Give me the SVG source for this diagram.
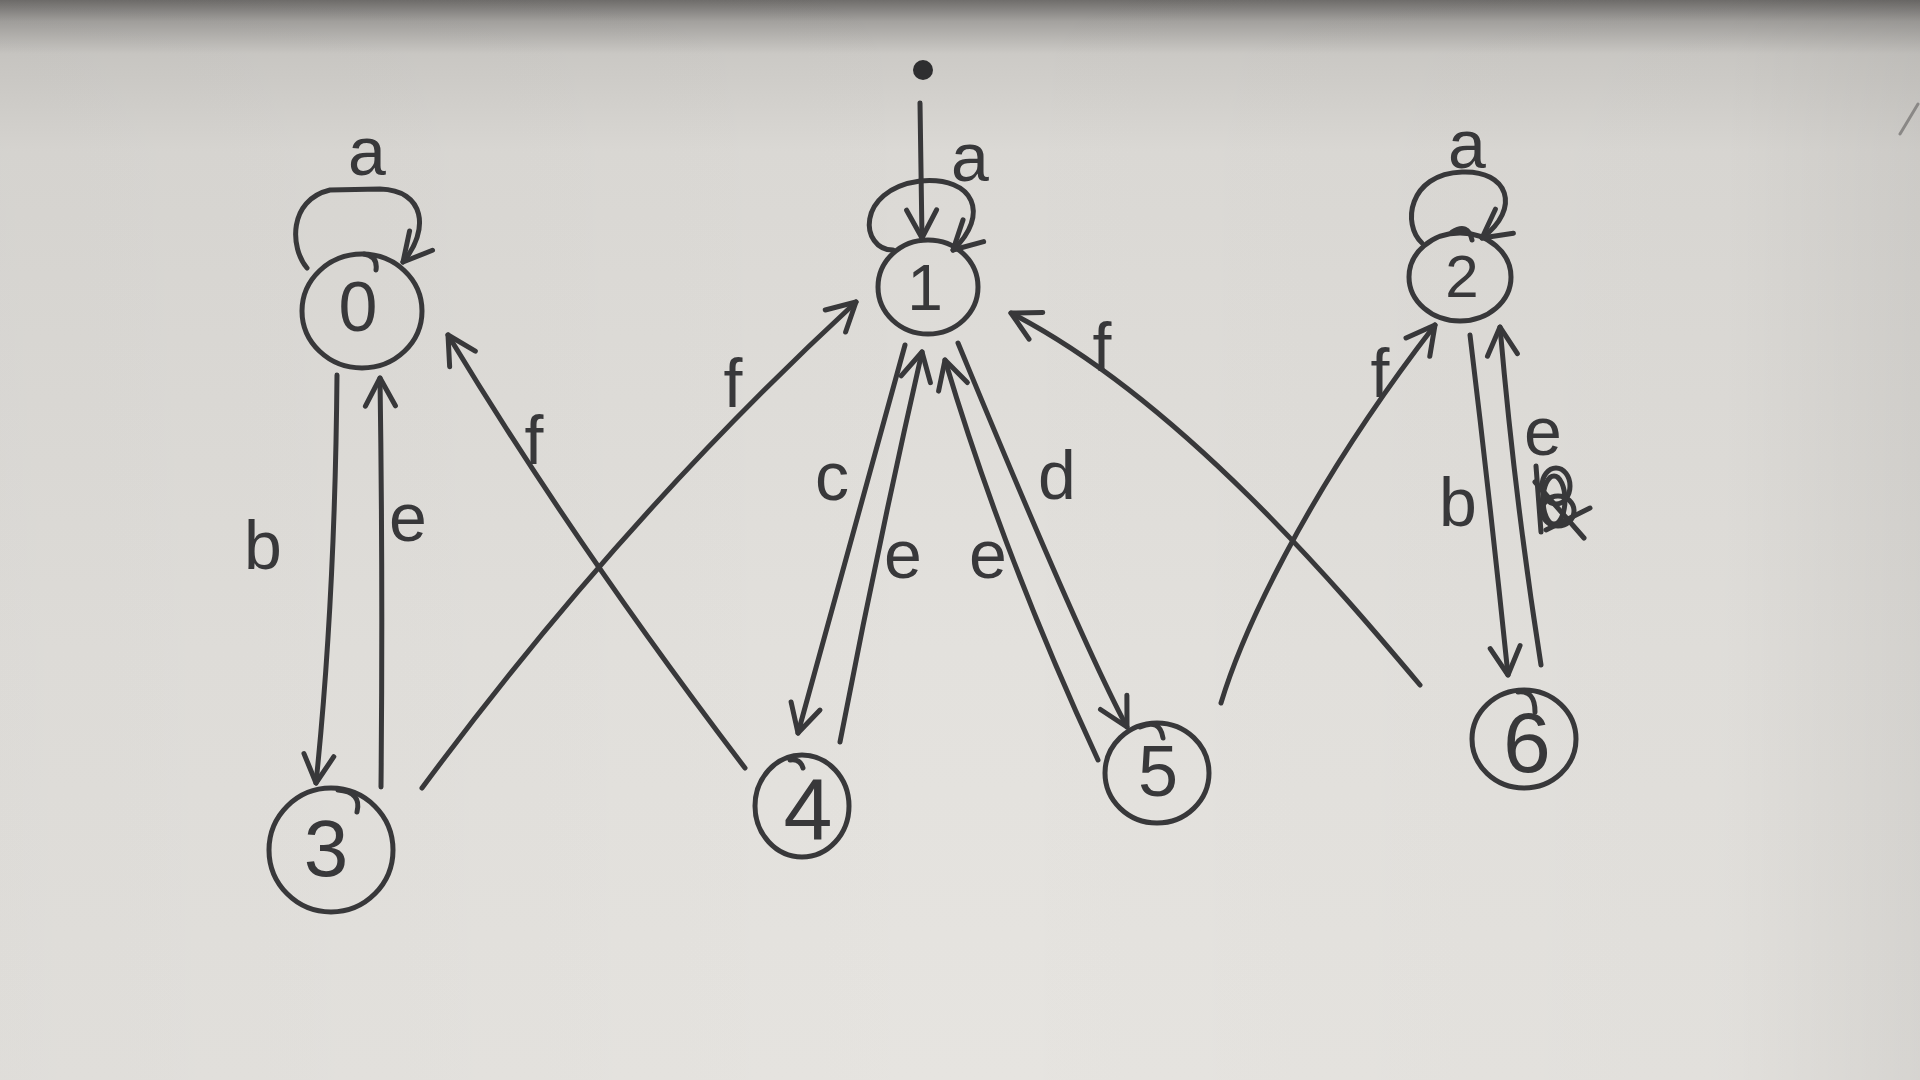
<svg xmlns="http://www.w3.org/2000/svg" width="1920" height="1080" viewBox="0 0 1920 1080">
  <defs>
    <linearGradient id="paper" x1="0" y1="0" x2="0" y2="1">
      <stop offset="0" stop-color="#6f6d6b"/>
      <stop offset="0.02" stop-color="#a4a29f"/>
      <stop offset="0.05" stop-color="#cccac6"/>
      <stop offset="0.14" stop-color="#dbd9d5"/>
      <stop offset="0.6" stop-color="#e3e1dd"/>
      <stop offset="1" stop-color="#e6e4e0"/>
    </linearGradient>
    <linearGradient id="edgeShade" x1="0" y1="0" x2="1" y2="0">
      <stop offset="0" stop-color="#000" stop-opacity="0.03"/>
      <stop offset="0.5" stop-color="#000" stop-opacity="0"/>
      <stop offset="0.9" stop-color="#000" stop-opacity="0.02"/>
      <stop offset="1" stop-color="#000" stop-opacity="0.07"/>
    </linearGradient>
    <marker id="arrow" markerUnits="userSpaceOnUse" markerWidth="44" markerHeight="44" viewBox="-36 -22 40 44" refX="0" refY="0" orient="auto" overflow="visible">
      <path d="M-28,-15 L0,0 L-28,15" fill="none" stroke="#38383a" stroke-width="5" stroke-linecap="round" stroke-linejoin="round"/>
    </marker>
    <style>
      .ink { fill: none; stroke: #38383a; stroke-width: 5; stroke-linecap: round; stroke-linejoin: round; }
      .edge { fill: none; stroke: #38383a; stroke-width: 5; stroke-linecap: round; stroke-linejoin: round; marker-end: url(#arrow); }
      .state { fill: none; stroke: #38383a; stroke-width: 5; }
      .num { font-family: "Liberation Sans", "DejaVu Sans", sans-serif; fill: #38383a; text-anchor: middle; }
      .lbl { font-family: "Liberation Sans", "DejaVu Sans", sans-serif; font-size: 68px; fill: #38383a; text-anchor: middle; }
    </style>
  </defs>

  <!-- paper -->
  <rect x="0" y="0" width="1920" height="1080" fill="url(#paper)"/>
  <rect x="0" y="0" width="1920" height="1080" fill="url(#edgeShade)"/>
  <path d="M1900,134 L1918,104" stroke="#8a8886" stroke-width="3" fill="none" stroke-linecap="round"/>

  <!-- states -->
  <g id="node-0">
    <ellipse class="state" cx="362" cy="311" rx="60" ry="57"/>
    <path class="ink" d="M364,254 Q378,256 376,270"/>
    <text class="num" x="358" y="331" font-size="70">0</text>
  </g>
  <g id="node-1">
    <ellipse class="state" cx="928" cy="287" rx="50" ry="47"/>
    <text class="num" x="925" y="310" font-size="64">1</text>
  </g>
  <g id="node-2">
    <ellipse class="state" cx="1460" cy="277" rx="51" ry="44"/>
    <path class="ink" d="M1452,232 Q1468,222 1472,240"/>
    <text class="num" x="1462" y="297" font-size="60">2</text>
  </g>
  <g id="node-3">
    <ellipse class="state" cx="331" cy="850" rx="62" ry="62"/>
    <path class="ink" d="M338,790 Q362,792 357,812"/>
    <text class="num" x="326" y="876" font-size="80">3</text>
  </g>
  <g id="node-4">
    <ellipse class="state" cx="802" cy="806" rx="47" ry="51"/>
    <path class="ink" d="M790,760 Q800,758 803,768"/>
    <text class="num" x="808" y="840" font-size="88">4</text>
  </g>
  <g id="node-5">
    <ellipse class="state" cx="1157" cy="773" rx="52" ry="50"/>
    <path class="ink" d="M1140,727 Q1160,718 1163,738"/>
    <text class="num" x="1158" y="796" font-size="72">5</text>
  </g>
  <g id="node-6">
    <ellipse class="state" cx="1524" cy="739" rx="52" ry="49"/>
    <path class="ink" d="M1518,692 Q1535,690 1535,712"/>
    <text class="num" x="1527" y="772" font-size="86">6</text>
  </g>

  <!-- transitions -->
  <g id="connectors">
    <!-- start marker into state 1 -->
    <circle cx="923" cy="70" r="10" fill="#2e2e30"/>
    <path class="edge" d="M920,103 L922,238"/>

    <!-- self loops -->
    <path class="edge" d="M307,268 C290,248 288,200 330,190 L380,189 C425,190 430,230 403,262"/>
    <path class="edge" d="M893,250 C860,250 855,190 920,181 C975,176 990,215 953,250"/>
    <path class="edge" d="M1422,243 C1402,225 1408,174 1462,172 C1508,170 1522,208 1482,238"/>

    <!-- 0 <-> 3 -->
    <path class="edge" d="M337,375 Q335,600 316,783"/>
    <path class="edge" d="M381,787 Q383,580 380,378"/>

    <!-- crossing f edges on the left -->
    <path class="edge" d="M745,768 Q575,545 448,335"/>
    <path class="edge" d="M422,788 Q620,520 856,302"/>

    <!-- 1 <-> 4 -->
    <path class="edge" d="M905,345 Q852,540 798,733"/>
    <path class="edge" d="M840,742 Q878,545 922,352"/>

    <!-- 1 <-> 5 -->
    <path class="edge" d="M1098,760 Q1003,555 945,360"/>
    <path class="edge" d="M958,343 C990,420 1080,640 1127,727"/>

    <!-- crossing f edges on the right -->
    <path class="edge" d="M1420,685 C1340,590 1180,400 1011,313"/>
    <path class="edge" d="M1221,703 C1240,640 1300,500 1435,325"/>

    <!-- 2 <-> 6 -->
    <path class="edge" d="M1470,335 Q1490,500 1508,675"/>
    <path class="edge" d="M1541,665 Q1515,500 1500,327"/>

    <!-- struck-out symbol next to the e label -->
    <g class="ink" stroke-width="4.5">
      <path d="M1536,466 L1541,532"/>
      <ellipse cx="1556" cy="486" rx="14" ry="18"/>
      <ellipse cx="1558" cy="511" rx="16" ry="15"/>
      <ellipse cx="1554" cy="500" rx="11" ry="24"/>
      <path d="M1535,482 L1584,538"/>
      <path d="M1546,530 L1590,508"/>
    </g>
  </g>

  <!-- transition labels -->
  <g id="labels">
    <text class="lbl" x="367" y="175">a</text>
    <text class="lbl" x="970" y="181">a</text>
    <text class="lbl" x="1467" y="168">a</text>
    <text class="lbl" x="263" y="569">b</text>
    <text class="lbl" x="408" y="541">e</text>
    <text class="lbl" x="534" y="464">f</text>
    <text class="lbl" x="733" y="407">f</text>
    <text class="lbl" x="832" y="500">c</text>
    <text class="lbl" x="903" y="578">e</text>
    <text class="lbl" x="988" y="578">e</text>
    <text class="lbl" x="1057" y="499">d</text>
    <text class="lbl" x="1102" y="371">f</text>
    <text class="lbl" x="1380" y="397">f</text>
    <text class="lbl" x="1458" y="526">b</text>
    <text class="lbl" x="1543" y="455">e</text>
  </g>
</svg>
